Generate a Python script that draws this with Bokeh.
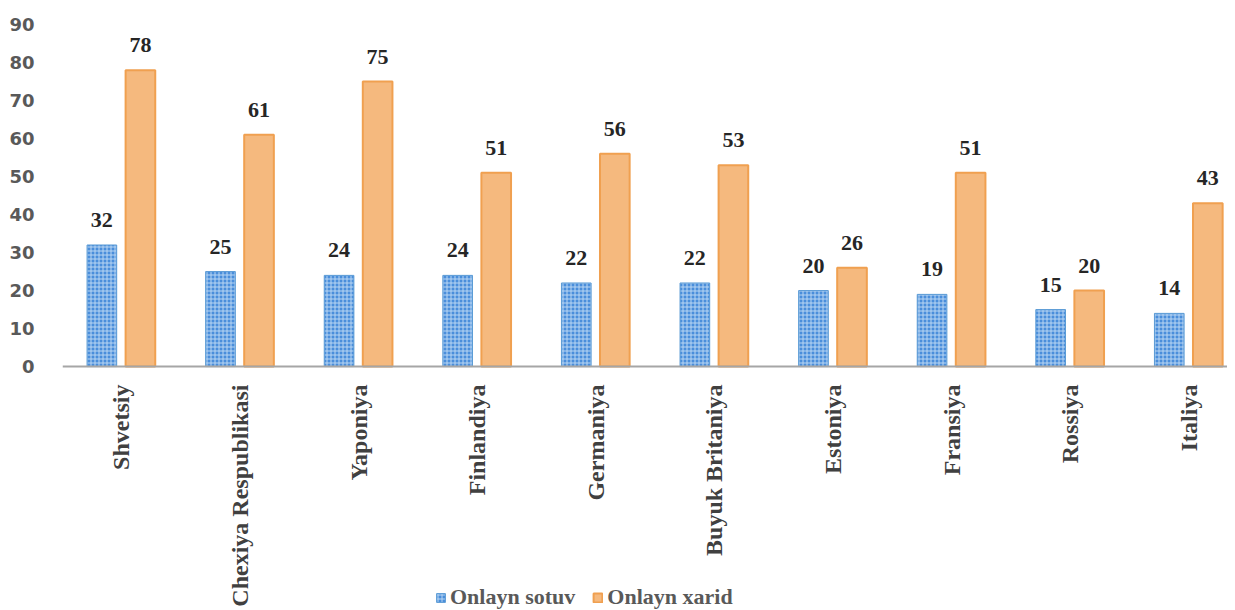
from bokeh.plotting import figure
from bokeh.models import (ColumnDataSource, Range1d, FixedTicker, LabelSet,
                          Legend, LegendItem)
from bokeh.transform import dodge
from bokeh.embed import file_html
from bokeh.resources import INLINE
import math

countries = ["Shvetsiy", "Chexiya Respublikasi", "Yaponiya", "Finlandiya",
             "Germaniya", "Buyuk Britaniya", "Estoniya", "Fransiya",
             "Rossiya", "Italiya"]
sotuv = [32, 25, 24, 24, 22, 22, 20, 19, 15, 14]
xarid = [78, 61, 75, 51, 56, 53, 26, 51, 20, 43]
series_names = ["Onlayn sotuv", "Onlayn xarid"]
y_ticks = [0, 10, 20, 30, 40, 50, 60, 70, 80, 90]

idx = list(range(len(countries)))
src = ColumnDataSource(dict(idx=idx, sotuv=sotuv, xarid=xarid,
                            sotuv_t=[str(v) for v in sotuv],
                            xarid_t=[str(v) for v in xarid]))

p = figure(width=1227, height=610, output_backend="svg", toolbar_location=None,
           x_range=Range1d(-0.497, 9.326), y_range=Range1d(-64.2, 92.4),
           min_border_left=62, min_border_right=0, min_border_top=15,
           min_border_bottom=0)
p.outline_line_color = None
p.xgrid.grid_line_color = None
p.ygrid.grid_line_color = None

blue = p.vbar(x=dodge("idx", -0.165), top="sotuv", width=0.25, source=src,
              fill_color="#4a8edb", line_color="#5b9bd5", line_width=1,
              hatch_pattern="cross", hatch_color="#b9d6f3", hatch_weight=1,
              hatch_scale=4)
orange = p.vbar(x=dodge("idx", 0.16), top="xarid", width=0.25, source=src,
                fill_color="#f5b97e", line_color="#f0a050", line_width=2)

lab_style = dict(text_font="Liberation Serif", text_font_style="bold",
                 text_font_size="22px", text_color="#262626",
                 text_align="center", text_baseline="middle", y_offset=25)
p.add_layout(LabelSet(x=dodge("idx", -0.165), y="sotuv", text="sotuv_t",
                      source=src, **lab_style))
p.add_layout(LabelSet(x=dodge("idx", 0.16), y="xarid", text="xarid_t",
                      source=src, **lab_style))

# y axis
ya = p.yaxis[0]
ya.ticker = FixedTicker(ticks=y_ticks)
ya.axis_line_color = None
ya.major_tick_line_color = None
ya.minor_tick_line_color = None
ya.major_label_standoff = 22
ya.major_label_text_font = "DejaVu Sans"
ya.major_label_text_font_style = "bold"
ya.major_label_text_font_size = "18px"
ya.major_label_text_color = "#595959"

# x axis, fixed at value 0
xa = p.xaxis[0]
xa.fixed_location = 0
xa.ticker = FixedTicker(ticks=idx)
xa.major_label_overrides = {i: c for i, c in zip(idx, countries)}
xa.major_label_orientation = math.pi / 2
xa.axis_line_color = "#a6a6a6"
xa.axis_line_width = 2
xa.major_tick_line_color = None
xa.minor_tick_line_color = None
xa.major_label_standoff = 12
xa.major_label_text_font = "Liberation Serif"
xa.major_label_text_font_style = "bold"
xa.major_label_text_font_size = "24px"
xa.major_label_text_color = "#404040"

legend = Legend(items=[LegendItem(label=series_names[0], renderers=[blue]),
                       LegendItem(label=series_names[1], renderers=[orange])],
                location=(373, 0), orientation="horizontal",
                glyph_width=11, glyph_height=11, label_standoff=4, spacing=17,
                padding=0, margin=0,
                label_text_font="Liberation Serif", label_text_font_style="bold",
                label_text_font_size="22px", label_text_color="#595959",
                background_fill_alpha=0, border_line_color=None)
p.add_layout(legend, "center")

open("out.html", "w").write(file_html(p, INLINE))
